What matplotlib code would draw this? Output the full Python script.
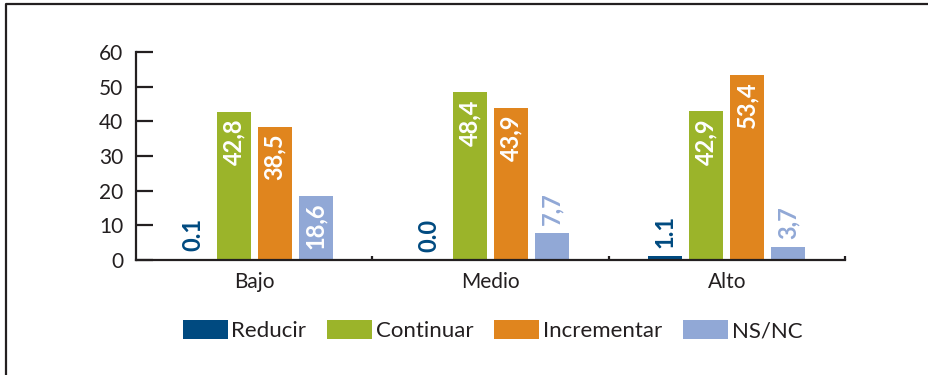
#!/usr/bin/env python3

import numpy as np
import matplotlib
matplotlib.use('Agg')
import matplotlib.pyplot as plt
from matplotlib.patches import Patch
from matplotlib.lines import Line2D

categories = ['Bajo', 'Medio', 'Alto']
series = ['Reducir', 'Continuar', 'Incrementar', 'NS/NC']
reducir = [0.1, 0.0, 1.1]
continuar = [42.8, 48.4, 42.9]
incrementar = [38.5, 43.9, 53.4]
nsnc = [18.6, 7.7, 3.7]
yticks = [0, 10, 20, 30, 40, 50, 60]

colors = ['#004a80', '#9bb42a', '#e0851e', '#91a8d6']
decimal_sep = ['.', ',', ',', ',']  # the source mixes separators
axis_color = '#231f20'

plt.rcParams['font.family'] = ['Lato', 'DejaVu Sans']

fig = plt.figure(figsize=(9.29, 3.75), dpi=100)
ax = fig.add_axes([136 / 929, 1 - 260 / 375, 709 / 929, 208 / 375])

x = np.arange(len(categories))
pitch = 0.1734
width = 0.1437
values = [reducir, continuar, incrementar, nsnc]

for i, (name, vals) in enumerate(zip(series, values)):
    pos = x + (i - 1.5) * pitch
    ax.bar(pos, vals, width, color=colors[i], label=name)
    for xp, v in zip(pos, vals):
        txt = '{:.1f}'.format(v).replace('.', decimal_sep[i])
        if v > 12:
            ax.annotate(txt, (xp, v), xytext=(0, -5), textcoords='offset points',
                        rotation=90, ha='center', va='top', color='white',
                        fontsize=17, fontweight='bold')
        else:
            ax.annotate(txt, (xp, v), xytext=(0, 6), textcoords='offset points',
                        rotation=90, ha='center', va='bottom', color=colors[i],
                        fontsize=17, fontweight='bold')

ax.set_xlim(-0.5, 2.5)
ax.set_ylim(0, 60)
ax.set_yticks(yticks)
ax.set_xticks(x)
ax.set_xticklabels(categories)
ax.set_xticks([0.5, 1.5, 2.5], minor=True)

for side in ['top', 'right']:
    ax.spines[side].set_visible(False)
for side in ['left', 'bottom']:
    ax.spines[side].set_color(axis_color)
    ax.spines[side].set_linewidth(1.6)

ax.tick_params(axis='y', direction='in', length=12, width=1.6, color=axis_color,
               labelsize=15, labelcolor=axis_color, pad=9)
ax.tick_params(axis='x', which='major', length=0, labelsize=15,
               labelcolor=axis_color, pad=9)
ax.tick_params(axis='x', which='minor', direction='in', length=3, width=1.6,
               color=axis_color)

handles = [Patch(facecolor=c, edgecolor='none') for c in colors]
fig.legend(handles, series, loc='center', bbox_to_anchor=(0.530, 1 - 330.5 / 375),
           ncol=4, frameon=False, fontsize=16, handlelength=2.03,
           handleheight=0.95, handletextpad=0.15, columnspacing=0.95,
           labelcolor=axis_color)

# outer frame (top and left edges)
fig.add_artist(Line2D([6.5 / 929, 6.5 / 929, 1.0], [0.0, 1 - 4 / 375, 1 - 4 / 375],
                      transform=fig.transFigure, color=axis_color, lw=1.6))

fig.savefig('out.png', dpi=100)
